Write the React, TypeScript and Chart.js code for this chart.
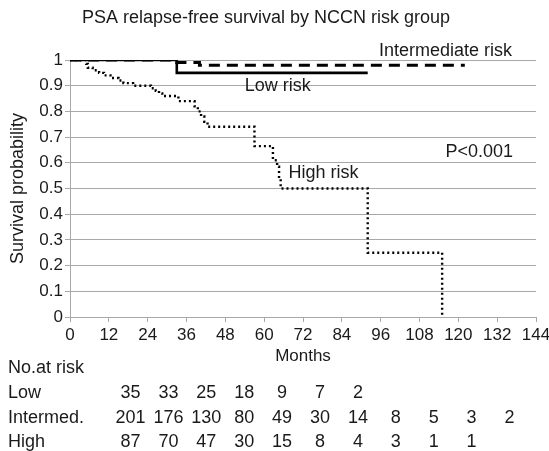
import React, { useEffect, useRef } from "react";
import { Chart, registerables } from "chart.js";

Chart.register(...registerables);

// ---------- data ----------
const monthTicks = [0, 12, 24, 36, 48, 60, 72, 84, 96, 108, 120, 132, 144];

const lowRisk = [
  { x: 0, y: 1 },
  { x: 33, y: 0.95 },
  { x: 92, y: 0.95 },
];

const intermediateRisk = [
  { x: 0, y: 1 },
  { x: 33, y: 0.99 },
  { x: 40, y: 0.98 },
  { x: 122, y: 0.98 },
];

const highRisk = [
  { x: 0, y: 1 },
  { x: 5, y: 0.985 },
  { x: 5.5, y: 0.97 },
  { x: 7, y: 0.96 },
  { x: 9, y: 0.95 },
  { x: 10.5, y: 0.94 },
  { x: 12.5, y: 0.93 },
  { x: 15, y: 0.92 },
  { x: 16.5, y: 0.91 },
  { x: 19.5, y: 0.9 },
  { x: 25, y: 0.89 },
  { x: 26.5, y: 0.88 },
  { x: 27.5, y: 0.87 },
  { x: 28.5, y: 0.86 },
  { x: 33.5, y: 0.84 },
  { x: 38.5, y: 0.82 },
  { x: 39.5, y: 0.8 },
  { x: 40.5, y: 0.78 },
  { x: 41.5, y: 0.76 },
  { x: 42.5, y: 0.74 },
  { x: 57, y: 0.665 },
  { x: 62.7, y: 0.61 },
  { x: 64, y: 0.585 },
  { x: 64.6, y: 0.54 },
  { x: 65.1, y: 0.5 },
  { x: 92, y: 0.25 },
  { x: 115, y: 0 },
];

const chartTitle = "PSA relapse-free survival by NCCN risk group";
const xTitle = "Months";
const yTitle = "Survival probability";
const pValueText = "P<0.001";

const atRiskHeader = "No.at risk";
const atRiskGroups = ["Low", "Intermed.", "High"];
const atRiskLow = [35, 33, 25, 18, 9, 7, 2];
const atRiskIntermediate = [201, 176, 130, 80, 49, 30, 14, 8, 5, 3, 2];
const atRiskHigh = [87, 70, 47, 30, 15, 8, 4, 3, 1, 1];
const atRiskRows = [atRiskLow, atRiskIntermediate, atRiskHigh];

// curve labels: [text, months, survival] anchor (left, baseline)
const curveLabels: [string, number, number][] = [
  ["Intermediate risk", 95.5, 1.0175],
  ["Low risk", 54, 0.88],
  ["High risk", 67.5, 0.54],
];
const pValueAnchor: [number, number] = [116, 0.622];

// ---------- styles ----------
const FONT = "'Liberation Sans', Arial, Helvetica, sans-serif";
const TEXT = "#1a1a1a";
const GRID = "#a8a8a8";

const overlayPlugin = {
  id: "overlay",
  afterDraw(chart: any) {
    const { ctx } = chart;
    const xs = chart.scales.x;
    const ys = chart.scales.y;
    ctx.save();
    ctx.fillStyle = TEXT;
    ctx.textBaseline = "alphabetic";

    // title
    ctx.font = `18px ${FONT}`;
    ctx.textAlign = "center";
    ctx.fillText(chartTitle, 266, 23);

    // curve labels
    ctx.textAlign = "left";
    for (const [t, m, s] of curveLabels) {
      ctx.fillText(t, xs.getPixelForValue(m), ys.getPixelForValue(s));
    }
    ctx.fillText(pValueText, xs.getPixelForValue(pValueAnchor[0]), ys.getPixelForValue(pValueAnchor[1]));

    // x title
    ctx.font = `17px ${FONT}`;
    ctx.textAlign = "center";
    ctx.textBaseline = "middle";
    ctx.fillText(xTitle, (xs.left + xs.right) / 2, 356);

    // number at risk table
    ctx.font = `18px ${FONT}`;
    ctx.textAlign = "left";
    const labelX = 8;
    const headerY = 368;
    const rowGap = 24.8;
    ctx.fillText(atRiskHeader, labelX, headerY);
    const colStart = 130.5;
    const colStep = 37.9;
    atRiskRows.forEach((row, r) => {
      const y = headerY + rowGap * (r + 1);
      ctx.textAlign = "left";
      ctx.fillText(atRiskGroups[r], labelX, y);
      ctx.textAlign = "center";
      row.forEach((v, i) => {
        ctx.fillText(String(v), colStart + colStep * i, y);
      });
    });
    ctx.restore();
  },
};

export default function App() {
  const ref = useRef<HTMLCanvasElement | null>(null);

  useEffect(() => {
    document.body.style.margin = "0";
    const canvas = ref.current;
    if (!canvas) return;
    const chart = new Chart(canvas, {
      type: "line",
      data: {
        datasets: [
          {
            label: "Low risk",
            data: lowRisk,
            borderColor: "#000",
            borderWidth: 2.6,
            stepped: true,
            pointRadius: 0,
            fill: false,
          },
          {
            label: "Intermediate risk",
            data: intermediateRisk,
            borderColor: "#000",
            borderWidth: 3,
            borderDash: [11, 7],
            stepped: true,
            pointRadius: 0,
            fill: false,
          },
          {
            label: "High risk",
            data: highRisk,
            borderColor: "#000",
            borderWidth: 2.4,
            borderDash: [2, 3],
            stepped: true,
            pointRadius: 0,
            fill: false,
          },
        ],
      },
      options: {
        animation: false,
        responsive: false,
        layout: { padding: { top: 60, right: 13, left: 0, bottom: 0 } },
        plugins: {
          legend: { display: false },
          tooltip: { enabled: false },
          title: { display: false },
        },
        scales: {
          x: {
            type: "linear",
            min: 0,
            max: 144,
            afterBuildTicks: (s: any) => {
              s.ticks = monthTicks.map((v) => ({ value: v }));
            },
            afterFit: (s: any) => {
              s.height = 134;
              s.paddingLeft = 0;
              s.paddingRight = 0;
            },
            grid: {
              drawOnChartArea: false,
              drawTicks: true,
              tickLength: 5,
              color: GRID,
            },
            border: { color: GRID, width: 1 },
            ticks: {
              autoSkip: false,
              maxRotation: 0,
              minRotation: 0,
              padding: 3,
              color: TEXT,
              font: { family: FONT, size: 17 },
              callback: (v: any) => String(v),
            },
          },
          y: {
            min: 0,
            max: 1,
            afterFit: (s: any) => {
              s.width = 70;
            },
            ticks: {
              stepSize: 0.1,
              padding: 2,
              color: TEXT,
              font: { family: FONT, size: 17 },
              callback: (v: any) => String(Math.round(Number(v) * 10) / 10),
            },
            grid: { color: GRID, tickLength: 5, lineWidth: 1 },
            border: { color: GRID, width: 1 },
            title: {
              display: true,
              text: yTitle,
              color: TEXT,
              font: { family: FONT, size: 18 },
              padding: { top: 7, bottom: 0 },
            },
          },
        },
      },
      plugins: [overlayPlugin],
    });
    return () => chart.destroy();
  }, []);

  return (
    <div style={{ width: 549, height: 451 }}>
      <canvas ref={ref} width={549} height={451} />
    </div>
  );
}
